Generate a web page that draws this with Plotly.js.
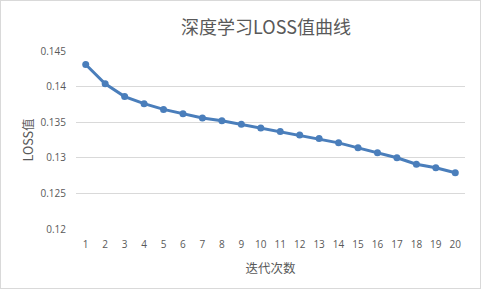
<!DOCTYPE html>
<html><head><meta charset="utf-8">
<script src="https://cdn.plot.ly/plotly-3.0.1.min.js"></script>
<style>html,body{margin:0;padding:0;background:#fff}#c{width:481px;height:289px}</style>
</head><body><div id="c"></div>
<script>
const iterations = ["1","2","3","4","5","6","7","8","9","10","11","12","13","14","15","16","17","18","19","20"];
const lossValues = [0.1431,0.1404,0.1386,0.1376,0.1368,0.1362,0.1356,0.1352,0.1347,0.1342,0.1337,0.1332,0.1327,0.1321,0.1314,0.1307,0.1300,0.1291,0.1286,0.1279];
const yTicks = [0.12,0.125,0.13,0.135,0.14,0.145];
const yTickText = ["0.12","0.125","0.13","0.135","0.14","0.145"];

const trace = {
  x: iterations, y: lossValues, type: 'scatter', mode: 'lines+markers',
  line: {color: '#4a7ebb', width: 3},
  marker: {color: '#4a7ebb', size: 7},
  hoverinfo: 'skip'
};
const tickFont = {family: 'Open Sans, Liberation Sans, sans-serif', size: 10, color: '#595959'};
const layout = {
  width: 481, height: 289,
  margin: {l: 76, r: 16, t: 51, b: 60},
  paper_bgcolor: '#fff', plot_bgcolor: '#fff',
  showlegend: false,
  title: {text: '深度学习LOSS值曲线', x: 0.553, xanchor: 'center', y: 0.905, yanchor: 'middle',
    font: {family: 'Noto Sans CJK SC, sans-serif', size: 18, color: '#595959'}},
  xaxis: {type: 'category', range: [-0.5, 19.5], showgrid: false, zeroline: false, showline: false,
    ticks: '', tickfont: tickFont, ticklabelstandoff: 8,
    title: {text: '迭代次数', standoff: 14, font: {family: 'Noto Sans CJK SC, sans-serif', size: 12.5, color: '#595959'}}},
  yaxis: {range: [0.12, 0.145], tickvals: yTicks, ticktext: yTickText, showgrid: true,
    gridcolor: '#d9d9d9', gridwidth: 1, zeroline: false, showline: false, ticks: '',
    tickfont: tickFont, ticklabelstandoff: 9,
    title: {text: 'LOSS值', standoff: 4, font: {family: 'Noto Sans CJK SC, sans-serif', size: 12.5, color: '#595959'}}}
};
Plotly.newPlot('c', [trace], layout, {displayModeBar: false, staticPlot: true});
</script>
<div style="position:absolute;left:0;top:0;width:479px;height:287px;border:1px solid #d9d9d9;pointer-events:none"></div>
</body></html>
